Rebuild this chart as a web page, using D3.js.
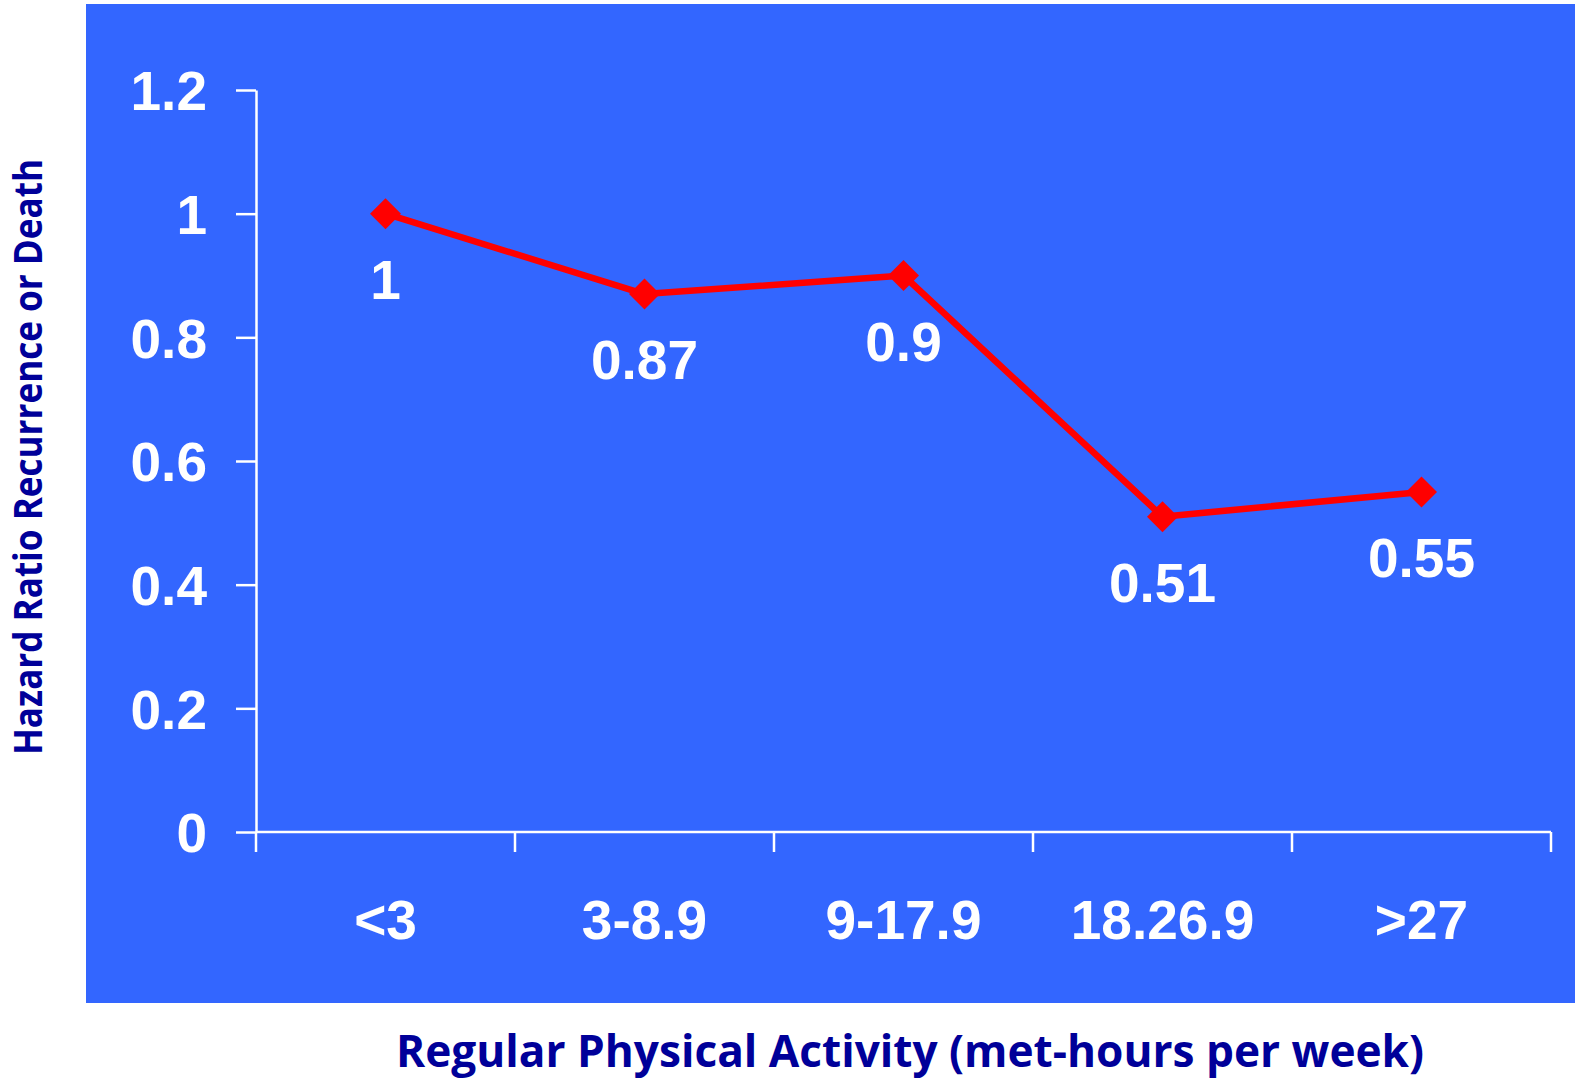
<!DOCTYPE html>
<html>
<head>
<meta charset="utf-8">
<script src="https://cdn.jsdelivr.net/npm/d3@7"></script>
<style>
  html, body { margin: 0; padding: 0; background: #ffffff; }
  svg { display: block; }
</style>
</head>
<body>
<svg id="chart" width="1575" height="1080"></svg>
<script>
// Activity bands and hazard ratios
const categories = ["<3", "3-8.9", "9-17.9", "18.26.9", ">27"];
const hazardRatios = [1, 0.87, 0.9, 0.51, 0.55];
const dataLabels = ["1", "0.87", "0.9", "0.51", "0.55"];
const yTickValues = [0, 0.2, 0.4, 0.6, 0.8, 1, 1.2];
const yTickLabels = ["0", "0.2", "0.4", "0.6", "0.8", "1", "1.2"];

const svg = d3.select("#chart");
const W = 1575, H = 1080;

// Blue plot panel
svg.append("rect")
  .attr("x", 86).attr("y", 4)
  .attr("width", W - 86).attr("height", 999)
  .attr("fill", "#3366FF");

const x = d3.scaleBand().domain(categories).range([256, 1551]);
const y = d3.scaleLinear().domain([0, 1.2]).range([832, 90]);

const tickFont = "'Liberation Sans', Arial, sans-serif";
const tickSize = 55;

// Y axis
const yAxis = d3.axisLeft(y)
  .tickValues(yTickValues)
  .tickFormat((d, i) => yTickLabels[i])
  .tickSize(20)
  .tickSizeOuter(0)
  .tickPadding(29);

const gy = svg.append("g").attr("transform", "translate(256,0)").call(yAxis);
gy.select(".domain").attr("stroke", "#fff").attr("stroke-width", 2.5);
gy.selectAll(".tick line").attr("stroke", "#fff").attr("stroke-width", 2.5);
gy.selectAll(".tick text")
  .attr("fill", "#fff")
  .attr("font-family", tickFont)
  .attr("font-weight", "bold")
  .attr("font-size", tickSize)
  .attr("dy", "0.36em");

// X axis: labels centred on bands, ticks on band boundaries
const xAxis = d3.axisBottom(x).tickSize(0).tickSizeOuter(0).tickPadding(107);
const gx = svg.append("g").attr("transform", "translate(0,832)").call(xAxis);
gx.select(".domain").remove();
gx.selectAll(".tick text")
  .attr("fill", "#fff")
  .attr("font-family", tickFont)
  .attr("font-weight", "bold")
  .attr("font-size", tickSize)
  .attr("dy", 0);

const boundaries = categories.map(c => x(c)).concat([x.range()[1]]);
svg.append("line")
  .attr("x1", x.range()[0]).attr("x2", x.range()[1])
  .attr("y1", y(0)).attr("y2", y(0))
  .attr("stroke", "#fff").attr("stroke-width", 2.5);
svg.append("g").selectAll("line")
  .data(boundaries)
  .join("line")
  .attr("x1", d => d).attr("x2", d => d)
  .attr("y1", y(0)).attr("y2", y(0) + 20)
  .attr("stroke", "#fff").attr("stroke-width", 2.5);

// Series line
const pts = categories.map((c, i) => ({ c, v: hazardRatios[i], label: dataLabels[i] }));
const cx = d => x(d.c) + x.bandwidth() / 2;

svg.append("path")
  .datum(pts)
  .attr("fill", "none")
  .attr("stroke", "#FF0000")
  .attr("stroke-width", 6.5)
  .attr("stroke-linejoin", "round")
  .attr("d", d3.line().x(cx).y(d => y(d.v)));

// Diamond markers
const diamond = d3.symbol().type(d3.symbolSquare).size(480);
svg.append("g").selectAll("path")
  .data(pts)
  .join("path")
  .attr("d", diamond)
  .attr("fill", "#FF0000")
  .attr("transform", d => `translate(${cx(d)},${y(d.v)}) rotate(45)`);

// Value labels below each point
svg.append("g").selectAll("text")
  .data(pts)
  .join("text")
  .attr("x", cx)
  .attr("y", d => y(d.v) + 85)
  .attr("text-anchor", "middle")
  .attr("fill", "#fff")
  .attr("font-family", tickFont)
  .attr("font-weight", "bold")
  .attr("font-size", tickSize)
  .text(d => d.label);

// Axis titles
const titleFont = "'Open Sans', 'Noto Sans', sans-serif";
svg.append("text")
  .attr("transform", "translate(42,457) rotate(-90)")
  .attr("text-anchor", "middle")
  .attr("fill", "#000099")
  .attr("font-family", titleFont)
  .attr("font-weight", "bold")
  .attr("font-size", 39)
  .attr("textLength", 596)
  .attr("lengthAdjust", "spacingAndGlyphs")
  .text("Hazard Ratio Recurrence or Death");

svg.append("text")
  .attr("x", 910)
  .attr("y", 1067)
  .attr("text-anchor", "middle")
  .attr("fill", "#000099")
  .attr("font-family", titleFont)
  .attr("font-weight", "bold")
  .attr("font-size", 45)
  .attr("textLength", 1028)
  .attr("lengthAdjust", "spacingAndGlyphs")
  .text("Regular Physical Activity (met-hours per week)");
</script>
</body>
</html>
